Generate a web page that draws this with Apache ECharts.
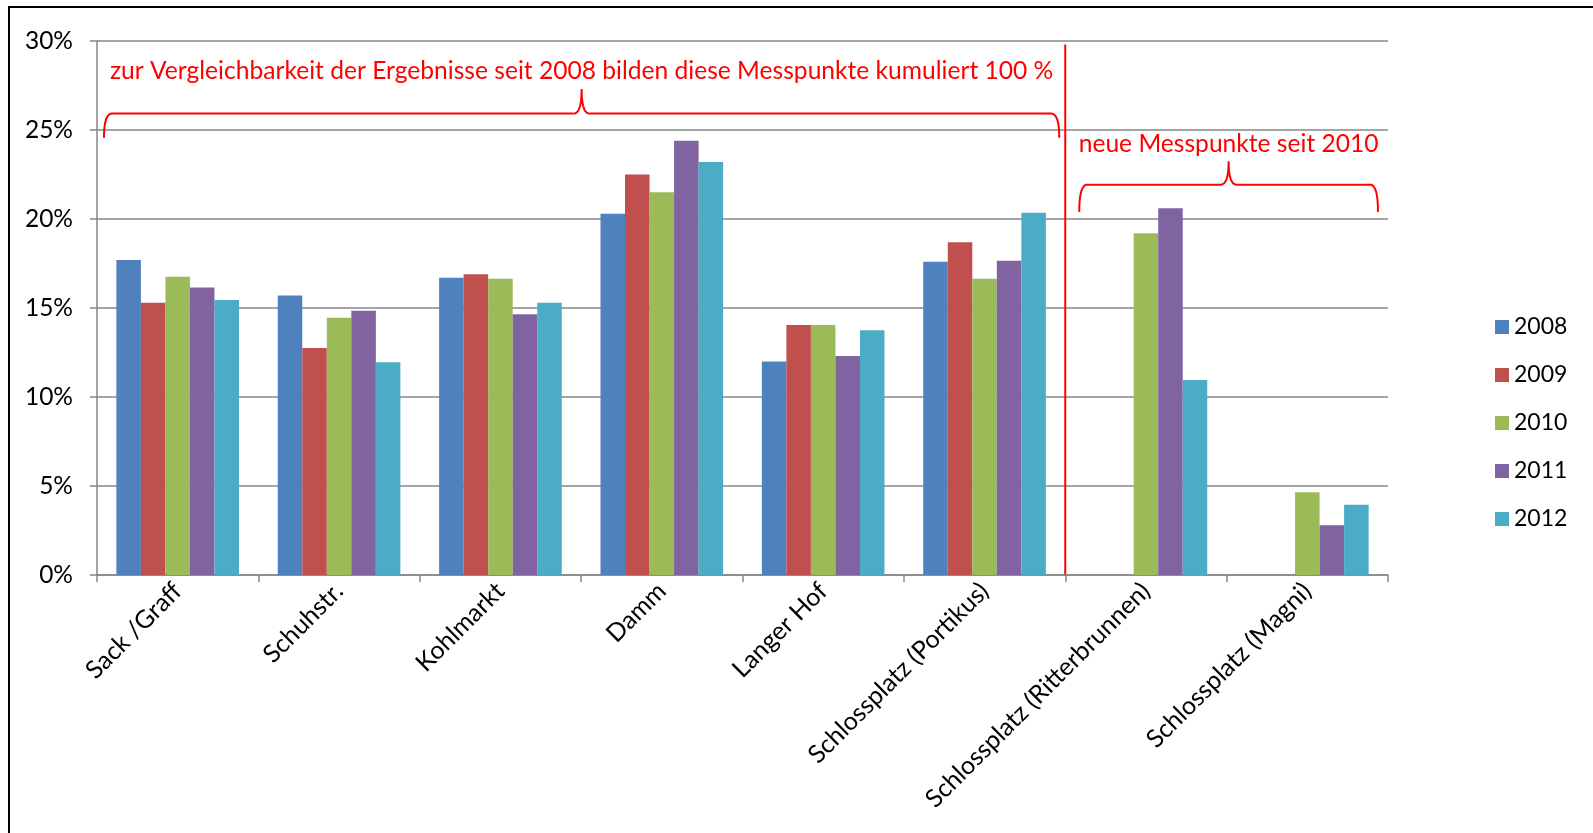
<!DOCTYPE html>
<html><head><meta charset="utf-8">
<script src="https://cdn.jsdelivr.net/npm/echarts@6/dist/echarts.min.js"></script>
<style>html,body{margin:0;padding:0;background:#fff}#c{width:1593px;height:833px}</style>
</head><body><div id="c"></div>
<script>
// ---- data ----
const categories = ['Sack /Graff','Schuhstr.','Kohlmarkt','Damm','Langer Hof','Schlossplatz (Portikus)','Schlossplatz (Ritterbrunnen)','Schlossplatz (Magni)'];
const years = ['2008','2009','2010','2011','2012'];
const v2008 = [17.7, 15.7, 16.7, 20.3, 12.0, 17.6, null, null];
const v2009 = [15.3, 12.75, 16.9, 22.5, 14.05, 18.7, null, null];
const v2010 = [16.75, 14.45, 16.65, 21.5, 14.05, 16.65, 19.2, 4.65];
const v2011 = [16.15, 14.85, 14.65, 24.4, 12.3, 17.65, 20.6, 2.8];
const v2012 = [15.45, 11.95, 15.3, 23.2, 13.75, 20.35, 10.95, 3.95];
const seriesValues = [v2008, v2009, v2010, v2011, v2012];
const yMin = 0, yMax = 30, yStep = 5;
const noteLeft = 'zur Vergleichbarkeit der Ergebnisse seit 2008 bilden diese Messpunkte kumuliert 100 %';
const noteRight = 'neue Messpunkte seit 2010';

// ---- style ----
const colors = ['#4F81BD','#C0504D','#9BBB59','#8064A2','#4BACC6'];
const FONT = 'Lato, "Open Sans", sans-serif';
const RED = '#FF0000';

const chart = echarts.init(document.getElementById('c'), null, {renderer:'canvas'});
const option = {
  animation: false,
  color: colors,
  grid: {left: 97, right: 205, top: 41, bottom: 258, containLabel: false},
  legend: {
    orient: 'vertical', left: 1490, top: 310,
    itemWidth: 14, itemHeight: 14, itemGap: 24,
    icon: 'rect',
    textStyle: {fontSize: 23, fontFamily: FONT, color: '#000', lineHeight: 24},
    data: years
  },
  xAxis: {
    type: 'category', data: categories,
    axisLine: {lineStyle: {color: '#868686', width: 1.5}},
    axisTick: {show: true, length: 7, lineStyle: {color: '#868686', width: 1.5}},
    axisLabel: {rotate: 45, fontSize: 25, fontFamily: FONT, color: '#000', margin: 12, interval: 0}
  },
  yAxis: {
    type: 'value', min: yMin, max: yMax, interval: yStep,
    axisLine: {show: true, lineStyle: {color: '#868686', width: 1.5}},
    axisTick: {show: true, length: 7, lineStyle: {color: '#868686', width: 1.5}},
    axisLabel: {formatter: '{value}%', fontSize: 24.5, fontFamily: FONT, color: '#000', margin: 24},
    splitLine: {lineStyle: {color: '#878787', width: 1.5}}
  },
  series: years.map((y, i) => ({
    name: y, type: 'bar', data: seriesValues[i],
    barGap: '0%', barCategoryGap: '24%',
    itemStyle: {color: colors[i]}
  }))
};
chart.setOption(option);

// ---- annotations positioned via axis conversion ----
function xc(i){ return chart.convertToPixel({xAxisIndex:0}, categories[i]); }
const band = xc(1) - xc(0);
function xb(i){ return xc(0) - band/2 + i*band; }
function yp(v){ return chart.convertToPixel({yAxisIndex:0}, v); }
function quad(p0, c, p1, n){
  const pts = [];
  for (let k = 1; k <= n; k++){
    const t = k / n, u = 1 - t;
    pts.push([u*u*p0[0] + 2*u*t*c[0] + t*t*p1[0], u*u*p0[1] + 2*u*t*c[1] + t*t*p1[1]]);
  }
  return pts;
}
function brace(x1, x2, yH, yEnd, yPeak){
  const xm = (x1 + x2) / 2, r = 8, n = 12;
  let pts = [[x1, yEnd]];
  pts = pts.concat(quad([x1, yEnd], [x1, yH], [x1 + r, yH], n));
  pts.push([xm - r, yH]);
  pts = pts.concat(quad([xm - r, yH], [xm, yH], [xm, yPeak], n));
  pts = pts.concat(quad([xm, yPeak], [xm, yH], [xm + r, yH], n));
  pts.push([x2 - r, yH]);
  pts = pts.concat(quad([x2 - r, yH], [x2, yH], [x2, yEnd], n));
  return pts;
}
const b1x1 = xb(0) + 7, b1x2 = xb(6) - 6;
const b2x1 = xb(6) + 14, b2x2 = xb(8) - 10;
chart.setOption({
  graphic: [
    {type:'rect', silent:true, shape:{x:9, y:7, width:1700, height:1000}, style:{fill:'none', stroke:'#000', lineWidth:2}},
    {type:'line', silent:true, shape:{x1:xb(6), y1:yp(29.8), x2:xb(6), y2:yp(0)}, style:{stroke:RED, lineWidth:2}},
    {type:'polyline', silent:true, shape:{points: brace(b1x1, b1x2, yp(25.92), yp(24.57), yp(27.3))}, style:{fill:null, stroke:RED, lineWidth:2}},
    {type:'polyline', silent:true, shape:{points: brace(b2x1, b2x2, yp(21.93), yp(20.4), yp(23.25))}, style:{fill:null, stroke:RED, lineWidth:2}},
    {type:'text', silent:true, x:(b1x1+b1x2)/2, y:yp(28.3), style:{text:noteLeft, fill:RED, fontSize:24.6, fontFamily:FONT, align:'center', verticalAlign:'middle'}},
    {type:'text', silent:true, x:(b2x1+b2x2)/2, y:yp(24.2), style:{text:noteRight, fill:RED, fontSize:24.6, fontFamily:FONT, align:'center', verticalAlign:'middle'}}
  ]
});
</script></body></html>
